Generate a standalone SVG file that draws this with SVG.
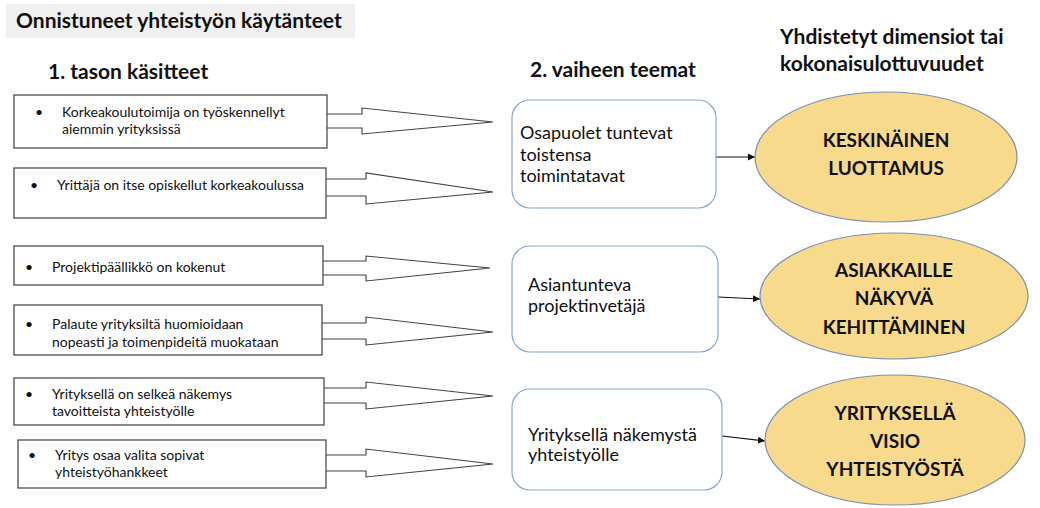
<svg xmlns="http://www.w3.org/2000/svg" width="1040" height="508" viewBox="0 0 1040 508">
  <defs>
    <style>
      text { font-family: Lato, "Open Sans", "Liberation Sans", sans-serif; fill: #111; }
      .hdr { font-size: 21px; font-weight: bold; }
      .item { font-size: 14px; }
      .theme { font-size: 18px; }
      .dim { font-size: 19px; font-weight: bold; text-anchor: middle; }
      .box { fill: #fff; stroke: #404040; stroke-width: 1.2; }
      .blk { fill: #fff; stroke: #404040; stroke-width: 1.1; }
      .theme-box { fill: #fff; stroke: #8ea6cc; stroke-width: 1.2; }
      .oval { fill: #f7da8c; stroke: #7d8fae; stroke-width: 1.2; }
      .link { fill: none; stroke: #111; stroke-width: 1.2; marker-end: url(#head); }
    </style>
    <marker id="head" viewBox="0 0 10 10" refX="10" refY="5" markerWidth="7" markerHeight="7" markerUnits="userSpaceOnUse" orient="auto">
      <path d="M0,0 L10,5 L0,10 Z" fill="#111"/>
    </marker>
  </defs>

  <rect width="1040" height="508" fill="#fff"/>

  <!-- headings -->
  <g id="title">
    <rect x="6" y="4" width="349" height="34" fill="#f0f0f0"/>
    <text class="hdr" x="16" y="28">Onnistuneet yhteistyön käytänteet</text>
  </g>
  <text class="hdr" x="48" y="79">1. tason käsitteet</text>
  <text class="hdr" x="530" y="77">2. vaiheen teemat</text>
  <text class="hdr" x="780" y="44">Yhdistetyt dimensiot tai</text>
  <text class="hdr" x="780" y="71">kokonaisulottuvuudet</text>

  <!-- block arrows from the concept boxes (box edge covers the open end) -->
  <g id="connectors">
    <path class="blk" d="M320,114 H362 V108 L493,122 L362,134 V128 H320 Z"/>
    <path class="blk" d="M320,179 H366 V173 L493,192 L366,204 V196 H320 Z"/>
    <path class="blk" d="M320,261 H366 V256 L490,268 L366,281 V275 H320 Z"/>
    <path class="blk" d="M320,323 H366 V317 L493,332 L366,345 V339 H320 Z"/>
    <path class="blk" d="M320,388 H366 V382 L493,396 L366,409 V403 H320 Z"/>
    <path class="blk" d="M320,455 H366 V449 L493,464 L366,477 V471 H320 Z"/>
    <path class="link" d="M716,157 L755,157"/>
    <path class="link" d="M718,297 L760,299"/>
    <path class="link" d="M722,436 L765,441"/>
  </g>

  <!-- 1st level concepts -->
  <g id="c1">
    <rect class="box" x="14" y="95" width="313" height="53"/>
    <text class="item" x="35" y="117">•</text>
    <text class="item" x="62" y="117">Korkeakoulutoimija  on työskennellyt</text>
    <text class="item" x="62" y="134">aiemmin yrityksissä</text>
  </g>
  <g id="c2">
    <rect class="box" x="14" y="168" width="312" height="50"/>
    <text class="item" x="30" y="190">•</text>
    <text class="item" x="57" y="190">Yrittäjä on itse opiskellut korkeakoulussa</text>
  </g>
  <g id="c3">
    <rect class="box" x="14" y="246" width="309" height="39"/>
    <text class="item" x="25" y="272">•</text>
    <text class="item" x="52" y="272">Projektipäällikkö on kokenut</text>
  </g>
  <g id="c4">
    <rect class="box" x="14" y="305" width="308" height="50"/>
    <text class="item" x="25" y="329">•</text>
    <text class="item" x="52" y="329">Palaute yrityksiltä huomioidaan</text>
    <text class="item" x="52" y="347">nopeasti ja toimenpideitä  muokataan</text>
  </g>
  <g id="c5">
    <rect class="box" x="14" y="378" width="310" height="47"/>
    <text class="item" x="25" y="399">•</text>
    <text class="item" x="52" y="399">Yrityksellä on selkeä näkemys</text>
    <text class="item" x="52" y="416">tavoitteista yhteistyölle</text>
  </g>
  <g id="c6">
    <rect class="box" x="18" y="440" width="308" height="48"/>
    <text class="item" x="28" y="460">•</text>
    <text class="item" x="55" y="460">Yritys osaa valita sopivat</text>
    <text class="item" x="55" y="477">yhteistyöhankkeet</text>
  </g>

  <!-- 2nd phase themes -->
  <g id="t1">
    <rect class="theme-box" x="512" y="100" width="204" height="108" rx="18"/>
    <text class="theme" x="520" y="139">Osapuolet tuntevat</text>
    <text class="theme" x="520" y="161">toistensa</text>
    <text class="theme" x="520" y="182">toimintatavat</text>
  </g>
  <g id="t2">
    <rect class="theme-box" x="512" y="246" width="206" height="106" rx="18"/>
    <text class="theme" x="528" y="291">Asiantunteva</text>
    <text class="theme" x="528" y="312">projektinvetäjä</text>
  </g>
  <g id="t3">
    <rect class="theme-box" x="512" y="389" width="210" height="101" rx="18"/>
    <text class="theme" x="528" y="441">Yrityksellä näkemystä</text>
    <text class="theme" x="528" y="461">yhteistyölle</text>
  </g>

  <!-- combined dimensions -->
  <g id="d1">
    <ellipse class="oval" cx="886" cy="157" rx="131" ry="65"/>
    <text class="dim" x="886" y="147">KESKINÄINEN</text>
    <text class="dim" x="886" y="175">LUOTTAMUS</text>
  </g>
  <g id="d2">
    <ellipse class="oval" cx="894" cy="296" rx="134" ry="63"/>
    <text class="dim" x="894" y="277">ASIAKKAILLE</text>
    <text class="dim" x="894" y="305">NÄKYVÄ</text>
    <text class="dim" x="894" y="334">KEHITTÄMINEN</text>
  </g>
  <g id="d3">
    <ellipse class="oval" cx="895" cy="440" rx="130" ry="65"/>
    <text class="dim" x="895" y="420">YRITYKSELLÄ</text>
    <text class="dim" x="895" y="448">VISIO</text>
    <text class="dim" x="895" y="476">YHTEISTYÖSTÄ</text>
  </g>
</svg>
